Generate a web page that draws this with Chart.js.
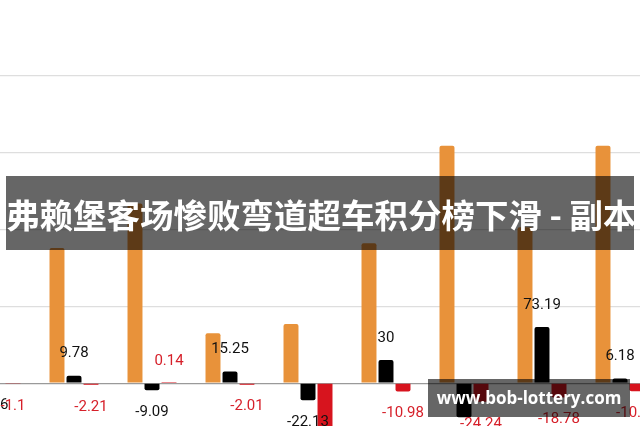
<!DOCTYPE html>
<html>
<head>
<meta charset="utf-8">
<script src="https://cdn.jsdelivr.net/npm/chart.js@4.4.1/dist/chart.umd.min.js"></script>
<style>
  html, body { margin:0; padding:0; background:#fff; width:640px; height:426px; overflow:hidden; position:relative; }
  #wrap { position:absolute; left:-43px; top:-1px; width:702px; height:461px; }
  #banner { position:absolute; left:6px; top:176px; width:628px; height:74px; background:rgba(0,0,0,0.6);
    color:#fff; font-family:"Noto Sans CJK SC", sans-serif; font-weight:700; font-size:33.5px; line-height:76px;
    white-space:nowrap; text-align:center; letter-spacing:0px; overflow:hidden; }
  #mark { position:absolute; left:428px; top:379px; width:202px; height:38px; background:rgba(0,0,0,0.6);
    color:#fff; font-family:"Open Sans", sans-serif; font-weight:700; font-size:17px; line-height:38px; text-align:center; white-space:nowrap; }
</style>
</head>
<body>
<div id="wrap"><canvas id="c" width="702" height="461"></canvas></div>
<div id="banner">弗赖堡客场惨败弯道超车积分榜下滑 - 副本</div>
<div id="mark">www.bob-lottery.com</div>
<script>
const categories = ["0", "1", "2", "3", "4", "5", "6", "7", "8"];
const orangeValues = [150, 176, 234, 65, 77, 182, 309, 203, 309];
const blackValues = [-0.6, 9.78, -9.09, 15.25, -22.13, 30, -44.3, 73.19, 6.18];
const redValues = [-1.1, -2.21, 0.14, -2.01, -80, -10.98, -24.24, -18.78, -10.65];
const yTicks = [-100, 0, 100, 200, 300, 400, 500];

const labelPlugin = {
  id: 'valueLabels',
  afterDatasetsDraw(chart) {
    const ctx = chart.ctx;
    ctx.save();
    ctx.font = '15px Roboto, sans-serif';
    ctx.textAlign = 'center';
    ctx.textBaseline = 'middle';
    chart.data.datasets.forEach((ds, di) => {
      if (!ds.labelColor) return;
      const meta = chart.getDatasetMeta(di);
      meta.data.forEach((bar, i) => {
        const v = ds.data[i];
        ctx.fillStyle = ds.labelColor;
        const y = v >= 0 ? bar.y - 22 : bar.y + 22;
        ctx.fillText(String(v), bar.x, y);
      });
    });
    ctx.restore();
  }
};

new Chart(document.getElementById('c'), {
  type: 'bar',
  data: {
    labels: categories,
    datasets: [
      { data: orangeValues, backgroundColor: '#e8923a', borderRadius: 2 },
      { data: blackValues, backgroundColor: '#000000', borderRadius: 2, labelColor: '#111111' },
      { data: redValues, backgroundColor: '#d7141e', borderRadius: 2, labelColor: '#d6202a' }
    ]
  },
  options: {
    responsive: false,
    animation: false,
    events: [],
    layout: { padding: 0 },
    categoryPercentage: 0.654,
    barPercentage: 0.88,
    plugins: { legend: { display: false }, tooltip: { enabled: false } },
    scales: {
      x: { display: false },
      y: {
        min: yTicks[0], max: yTicks[yTicks.length - 1],
        afterBuildTicks: (s) => { s.ticks = yTicks.map(v => ({ value: v })); },
        ticks: { display: false },
        border: { display: false },
        grid: {
          drawTicks: false,
          lineWidth: 1.3,
          color: (c) => c.tick && c.tick.value === 0 ? '#9a9a9a' : '#dedede'
        }
      }
    }
  },
  plugins: [labelPlugin]
});
</script>
</body>
</html>
